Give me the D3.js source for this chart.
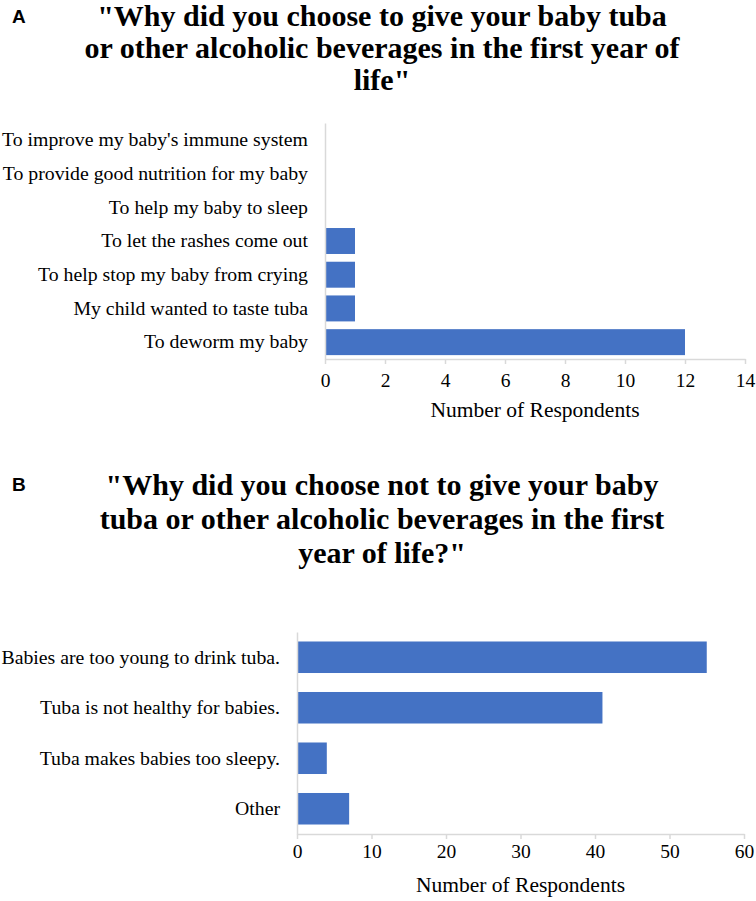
<!DOCTYPE html>
<html>
<head>
<meta charset="utf-8">
<script src="https://cdn.jsdelivr.net/npm/d3@7"></script>
<style>
  body { margin: 0; background: #fff; }
  svg text { font-family: "Liberation Serif", "Times New Roman", serif; fill: #000; }
  .panel { font-family: "Liberation Sans", Arial, sans-serif !important; font-weight: bold; }
  .title { font-weight: bold; }
</style>
</head>
<body>
<div id="chart"></div>
<script>
// chart A data
var reasonsGive = [
  "To improve my baby's immune system",
  "To provide good nutrition for my baby",
  "To help my baby to sleep",
  "To let the rashes come out",
  "To help stop my baby from crying",
  "My child wanted to taste tuba",
  "To deworm my baby"
];
var countsGive = [0, 0, 0, 1, 1, 1, 12];
var ticksGive = [0, 2, 4, 6, 8, 10, 12, 14];
var titleGive = [
  "\"Why did you choose to give your baby tuba",
  "or other alcoholic beverages in the first year of",
  "life\""
];

// chart B data
var reasonsNot = [
  "Babies are too young to drink tuba.",
  "Tuba is not healthy for babies.",
  "Tuba makes babies too sleepy.",
  "Other"
];
var countsNot = [55, 41, 4, 7];
var ticksNot = [0, 10, 20, 30, 40, 50, 60];
var titleNot = [
  "\"Why did you choose not to give your baby",
  "tuba or other alcoholic beverages in the first",
  "year of life?\""
];

var svgWidth = 756, svgHeight = 901;
var barColor = "#4472C4";
var gridGrey = "#d9d9d9";

var svg = d3.select("#chart").append("svg")
  .attr("width", svgWidth)
  .attr("height", svgHeight);

// draws one panel: letter, title, bars, axes
function drawPanel(opt) {
  var g = svg.append("g");

  g.append("text")
    .attr("class", "panel")
    .attr("x", 12)
    .attr("y", opt.letterY)
    .style("font-size", "19px")
    .text(opt.letter);

  g.selectAll("text.title")
    .data(opt.title)
    .enter()
    .append("text")
    .attr("class", "title")
    .attr("x", 382)
    .attr("y", (d, i) => opt.titleY + i * opt.lineGap)
    .attr("text-anchor", "middle")
    .style("font-size", "30px")
    .text(d => d);

  var x = d3.scaleLinear()
    .domain([0, opt.ticks[opt.ticks.length - 1]])
    .range([opt.left, opt.right]);

  var y = d3.scaleBand()
    .domain(opt.cats)
    .range([opt.top, opt.bottom])
    .paddingInner(opt.pad)
    .paddingOuter(opt.pad / 2);

  // bars
  g.selectAll("rect")
    .data(opt.values)
    .enter()
    .append("rect")
    .attr("x", x(0))
    .attr("y", (d, i) => y(opt.cats[i]))
    .attr("width", d => x(d) - x(0))
    .attr("height", y.bandwidth())
    .attr("fill", barColor);

  // x axis
  var xAxis = g.append("g")
    .attr("transform", `translate(0, ${opt.bottom})`)
    .call(d3.axisBottom(x).tickValues(opt.ticks).tickSize(5).tickSizeOuter(0));
  xAxis.select(".domain").attr("stroke", gridGrey).attr("stroke-width", 1.5);
  xAxis.selectAll(".tick line").attr("stroke", gridGrey).attr("stroke-width", 1.5);
  xAxis.selectAll(".tick text")
    .attr("dy", null)
    .attr("y", opt.tickY)
    .style("font-size", "19.5px");
  xAxis.attr("font-family", null).attr("font-size", null);

  // y axis
  var yAxis = g.append("g")
    .attr("transform", `translate(${opt.left}, 0)`)
    .call(d3.axisLeft(y).tickSize(0).tickSizeOuter(0).tickPadding(17));
  yAxis.select(".domain").attr("stroke", gridGrey).attr("stroke-width", 1.5);
  yAxis.selectAll(".tick text").style("font-size", "19.8px");
  yAxis.attr("font-family", null).attr("font-size", null);

  // axis title
  g.append("text")
    .attr("x", (opt.left + opt.right) / 2)
    .attr("y", opt.bottom + 58)
    .attr("text-anchor", "middle")
    .style("font-size", "21.5px")
    .text("Number of Respondents");
}

drawPanel({
  letter: "A", letterY: 23,
  title: titleGive, titleY: 26, lineGap: 32,
  cats: reasonsGive, values: countsGive, ticks: ticksGive, tickY: 28,
  left: 325, right: 745, top: 123, bottom: 359, pad: 0.23
});

drawPanel({
  letter: "B", letterY: 491,
  title: titleNot, titleY: 495, lineGap: 34,
  cats: reasonsNot, values: countsNot, ticks: ticksNot, tickY: 24,
  left: 297, right: 744, top: 632, bottom: 834, pad: 0.376
});
</script>
</body>
</html>
